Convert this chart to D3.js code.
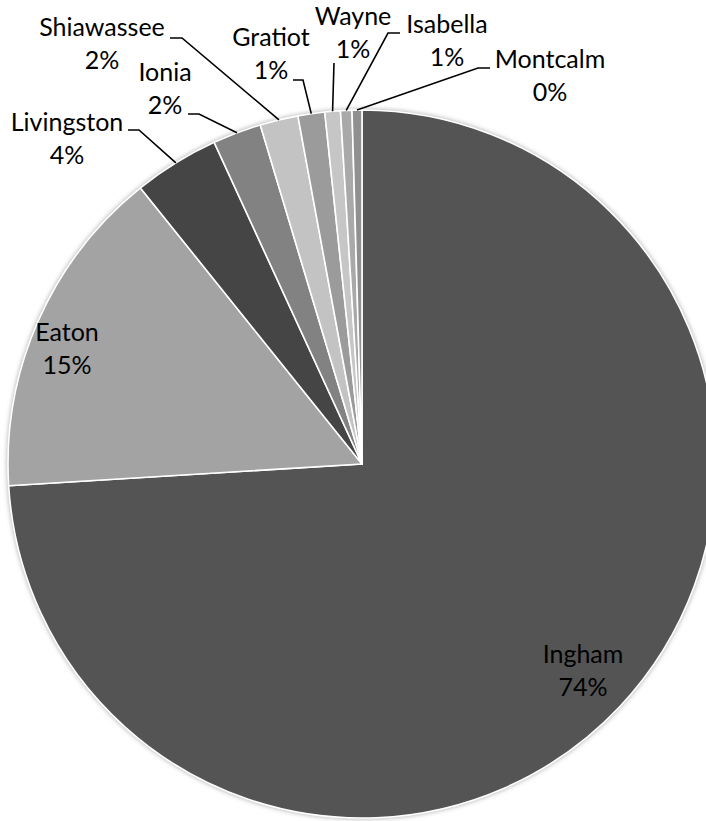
<!DOCTYPE html>
<html>
<head>
<meta charset="utf-8">
<script src="https://cdn.jsdelivr.net/npm/d3@7"></script>
<style>
  html, body { margin: 0; padding: 0; background: #ffffff; }
  svg text { font-family: Lato, "Open Sans", sans-serif; font-size: 25px; fill: #000; }
</style>
</head>
<body>
<div id="chart"></div>
<script>
// counties and their share
var counties = ["Ingham", "Eaton", "Livingston", "Ionia", "Shiawassee", "Gratiot", "Wayne", "Isabella", "Montcalm"];
var shares = [74.06, 15.22, 3.91, 2.22, 1.74, 1.22, 0.71, 0.52, 0.45];
var fills = ["#545454", "#a3a3a3", "#454545", "#828282", "#c3c3c3", "#9b9b9b", "#c6c6c6", "#a9a9a9", "#909090"];

// where each label sits, and the elbow of its leader line
var labelLayout = {
  "Ingham":     { x: 583, y: 663, inside: true },
  "Eaton":      { x: 67,  y: 341, inside: true },
  "Livingston": { x: 67,  y: 131, knee: [[128, 130], [139, 130]] },
  "Ionia":      { x: 165, y: 81,  knee: [[188, 114], [199, 114]] },
  "Shiawassee": { x: 102, y: 36,  knee: [[170, 38], [182, 38]] },
  "Gratiot":    { x: 271, y: 46,  knee: [[293, 80], [303, 80]] },
  "Wayne":      { x: 353, y: 25,  knee: [[334, 63]] },
  "Isabella":   { x: 447, y: 33,  knee: [[400, 33], [388, 33]] },
  "Montcalm":   { x: 550, y: 68,  knee: [[490, 68], [478, 68]] }
};

var width = 706, height = 821;
var cx = 362, cy = 464, radius = 354;
var lineGap = 33;

var svg = d3.select("#chart").append("svg")
  .attr("width", width)
  .attr("height", height);

// soft shadow round the pie
var defs = svg.append("defs");
defs.append("filter").attr("id", "shade")
  .attr("x", "-5%").attr("y", "-5%").attr("width", "110%").attr("height", "110%")
  .append("feGaussianBlur").attr("stdDeviation", 2);

var rows = counties.map(function(c, i) {
  return { name: c, value: shares[i], fill: fills[i] };
});
var total = d3.sum(shares);

var pie = d3.pie().sort(null).value(function(d) { return d.value; });
var arc = d3.arc().innerRadius(0).outerRadius(radius);
var arcs = pie(rows);

var g = svg.append("g").attr("transform", "translate(" + cx + "," + cy + ")");

g.append("circle")
  .attr("r", radius + 1.5)
  .attr("fill", "#bdbdbd")
  .attr("filter", "url(#shade)");

g.selectAll("path.slice")
  .data(arcs)
  .enter().append("path")
  .attr("class", "slice")
  .attr("d", arc)
  .attr("fill", function(d) { return d.data.fill; })
  .attr("stroke", "#ffffff")
  .attr("stroke-width", 1.6)
  .attr("stroke-linejoin", "round");

// leader lines for the outside labels
arcs.forEach(function(d) {
  var lay = labelLayout[d.data.name];
  if (lay.inside) return;
  var mid = (d.startAngle + d.endAngle) / 2;
  var ex = cx + radius * Math.sin(mid);
  var ey = cy - radius * Math.cos(mid);
  var pts = lay.knee.concat([[ex, ey]]);
  svg.append("path")
    .attr("d", d3.line()(pts))
    .attr("fill", "none")
    .attr("stroke", "#000")
    .attr("stroke-width", 1.6);
});

// labels: name on the first line, rounded percent under it
arcs.forEach(function(d) {
  var lay = labelLayout[d.data.name];
  var pct = Math.round(d.data.value / total * 100) + "%";
  var t = svg.append("text")
    .attr("text-anchor", "middle")
    .attr("x", lay.x)
    .attr("y", lay.y);
  t.append("tspan").attr("x", lay.x).text(d.data.name);
  t.append("tspan").attr("x", lay.x).attr("dy", lineGap).text(pct);
});
</script>
</body>
</html>
